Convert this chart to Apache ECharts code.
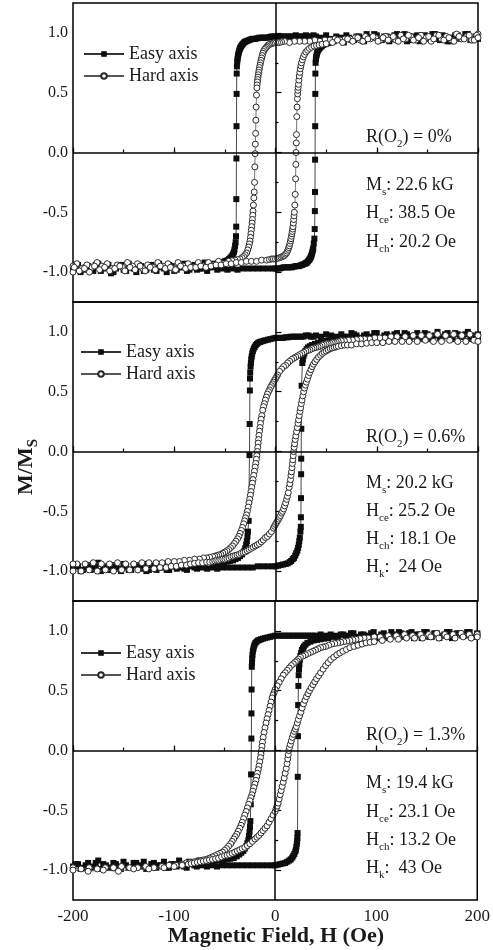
<!DOCTYPE html>
<html><head><meta charset="utf-8">
<script src="https://cdn.jsdelivr.net/npm/echarts@6/dist/echarts.min.js"></script>
<style>html,body{margin:0;padding:0;background:#fff;}#c{width:493px;height:950px;}</style>
</head><body><div id="c"></div>
<script>
// ---------------- data ----------------
const xLabelTicks = [-200, -100, 0, 100, 200];
const yLabelTicks = [-1.0, -0.5, 0.0, 0.5, 1.0];
const yMinorTicks = [-0.75, -0.25, 0.25, 0.75];
const legendNames = ['Easy axis', 'Hard axis'];
const oxygenRatio = ['0%', '0.6%', '1.3%'];
const msValues = ['22.6 kG', '20.2 kG', '19.4 kG'];
const hceValues = ['38.5 Oe', '25.2 Oe', '23.1 Oe'];
const hchValues = ['20.2 Oe', '18.1 Oe', '13.2 Oe'];
const hkValues = [null, '24 Oe', '43 Oe'];
const xTitle = 'Magnetic Field, H (Oe)';

// Panel 1 : R(O2)=0%
const easy1Down = [[200,0.97],[195,0.94],[190,0.99],[185,0.95],[180,0.98],[175,0.96],[170,0.93],[165,0.98],[160,0.95],[155,0.99],[150,0.96],[145,0.94],[140,0.98],[135,0.97],[130,0.93],[125,0.96],[120,0.99],[115,0.95],[110,0.97],[105,0.94],[100,0.98],[95,0.96],[90,0.99],[85,0.95],[80,0.97],[75,0.94],[70,0.98],[65,0.96],[60,0.97],[55,0.95],[50,0.98],[45,0.96],[40,0.97],[37.5,0.98],[35,0.97],[32.5,0.97],[30,0.98],[27.5,0.97],[25,0.97],[22.5,0.97],[20,0.98],[17.5,0.97],[15,0.97],[12.5,0.97],[10,0.97],[7.5,0.97],[5,0.97],[2.5,0.97],[0,0.97],[-2,0.97],[-4,0.97],[-6,0.965],[-8,0.96],[-10,0.96],[-12,0.96],[-14,0.96],[-16,0.96],[-18,0.955],[-20,0.95],[-21.5,0.95],[-23,0.95],[-24.5,0.945],[-26,0.94],[-27.5,0.935],[-29,0.93],[-30,0.925],[-31,0.92],[-32,0.91],[-33,0.9],[-33.8,0.89],[-34.5,0.88],[-35,0.87],[-35.5,0.86],[-36,0.845],[-36.5,0.83],[-36.9,0.815],[-37.2,0.8],[-37.5,0.78],[-37.8,0.76],[-38.1,0.72],[-38.3,0.66],[-38.4,0.49],[-38.5,0.22],[-38.6,-0.05],[-38.7,-0.39],[-38.8,-0.62],[-39,-0.7],[-39.4,-0.75],[-39.9,-0.78],[-40.5,-0.81],[-41,-0.83],[-41.7,-0.845],[-42.5,-0.86],[-43.4,-0.87],[-44.5,-0.88],[-45.7,-0.89],[-47,-0.9],[-48.5,-0.905],[-50,-0.91],[-52,-0.915],[-54,-0.92],[-56,-0.925],[-58,-0.93],[-61,-0.93],[-65,-0.96],[-70,-0.92],[-75,-0.97],[-80,-0.94],[-85,-0.98],[-90,-0.93],[-95,-0.96],[-100,-0.99],[-105,-0.94],[-110,-0.97],[-115,-0.93],[-120,-0.98],[-125,-0.95],[-130,-0.99],[-135,-0.94],[-140,-0.97],[-145,-0.93],[-150,-0.98],[-155,-0.95],[-160,-1.0],[-165,-0.94],[-170,-0.97],[-175,-0.93],[-180,-0.99],[-185,-0.95],[-190,-0.98],[-195,-0.94],[-200,-0.97]];
const easy1Up = [[-200,-0.99],[-197.5,-0.95],[-192.5,-1.0],[-187.5,-0.96],[-182.5,-0.98],[-177.5,-0.94],[-172.5,-0.99],[-167.5,-0.96],[-162.5,-1.01],[-157.5,-0.97],[-152.5,-0.94],[-147.5,-0.99],[-142.5,-0.96],[-137.5,-1.0],[-132.5,-0.95],[-127.5,-0.98],[-122.5,-0.94],[-117.5,-0.99],[-112.5,-0.96],[-107.5,-1.0],[-102.5,-0.95],[-97.5,-0.98],[-92.5,-0.96],[-87.5,-0.99],[-82.5,-0.95],[-77.5,-0.98],[-72.5,-0.97],[-67.5,-0.99],[-62.5,-0.96],[-57.5,-0.98],[-52.5,-0.97],[-47.5,-0.98],[-42.5,-0.97],[-37.5,-0.98],[-32.5,-0.97],[-27.5,-0.97],[-22.5,-0.97],[-17.5,-0.97],[-12.5,-0.97],[-7.5,-0.97],[-2.5,-0.97],[0,-0.97],[2,-0.97],[4,-0.97],[6,-0.965],[8,-0.96],[10,-0.96],[12,-0.96],[14,-0.96],[16,-0.96],[18,-0.955],[20,-0.95],[21.5,-0.95],[23,-0.95],[24.5,-0.945],[26,-0.94],[27.5,-0.935],[29,-0.93],[30,-0.925],[31,-0.92],[32,-0.91],[33,-0.9],[33.8,-0.89],[34.5,-0.88],[35,-0.87],[35.5,-0.86],[36,-0.845],[36.5,-0.83],[36.9,-0.815],[37.3,-0.8],[37.8,-0.76],[38.4,-0.72],[38.7,-0.64],[38.9,-0.49],[39,-0.33],[39.1,-0.06],[39.2,0.22],[39.3,0.49],[39.4,0.66],[39.6,0.75],[39.9,0.78],[40.2,0.8],[40.6,0.815],[41,0.83],[41.7,0.845],[42.5,0.86],[43.4,0.87],[44.5,0.88],[45.7,0.89],[47,0.9],[48.5,0.905],[50,0.91],[52,0.915],[54,0.92],[57.5,0.93],[62.5,0.95],[67.5,0.92],[72.5,0.96],[77.5,0.94],[82.5,0.97],[87.5,0.93],[92.5,0.96],[97.5,0.99],[102.5,0.94],[107.5,0.97],[112.5,0.93],[117.5,0.98],[122.5,0.95],[127.5,0.99],[132.5,0.94],[137.5,0.96],[142.5,0.93],[147.5,0.98],[152.5,0.95],[157.5,0.99],[162.5,0.94],[167.5,0.97],[172.5,0.93],[177.5,0.98],[182.5,0.95],[187.5,0.99],[192.5,0.94],[197.5,0.97],[200,0.95]];
const hard1Down = [[200,0.99],[198.75,0.98],[193.75,0.94],[188.75,0.97],[183.75,0.95],[178.75,0.99],[173.75,0.94],[168.75,0.97],[163.75,0.95],[158.75,0.98],[153.75,0.93],[148.75,0.96],[143.75,0.98],[138.75,0.94],[133.75,0.97],[128.75,0.95],[123.75,0.98],[118.75,0.94],[113.75,0.96],[108.75,0.97],[103.75,0.94],[98.75,0.96],[93.75,0.95],[88.75,0.97],[83.75,0.94],[78.75,0.96],[73.75,0.95],[68.75,0.95],[63.75,0.94],[58.75,0.95],[53.75,0.94],[48.75,0.94],[43.75,0.93],[38.75,0.94],[33.75,0.93],[28.75,0.93],[23.75,0.93],[18.75,0.93],[13.75,0.92],[8.75,0.93],[6,0.925],[4,0.92],[2,0.92],[0,0.92],[-2,0.915],[-4,0.91],[-5.5,0.905],[-7,0.9],[-8,0.89],[-9,0.88],[-10,0.87],[-11,0.86],[-11.8,0.845],[-12.5,0.83],[-13.1,0.81],[-13.7,0.79],[-14.3,0.77],[-14.8,0.75],[-15.3,0.73],[-15.8,0.71],[-16.2,0.69],[-16.6,0.67],[-17,0.65],[-17.3,0.63],[-17.6,0.61],[-17.9,0.59],[-18.2,0.565],[-18.4,0.54],[-18.8,0.48],[-19.1,0.38],[-19.4,0.27],[-19.6,0.16],[-19.9,0.07],[-20.1,-0.01],[-20.4,-0.12],[-20.7,-0.25],[-21,-0.33],[-21.4,-0.38],[-21.8,-0.44],[-22.2,-0.49],[-22.5,-0.525],[-22.8,-0.56],[-23.1,-0.59],[-23.5,-0.62],[-23.9,-0.65],[-24.3,-0.68],[-24.7,-0.71],[-25.2,-0.74],[-25.8,-0.765],[-26.5,-0.79],[-27.4,-0.815],[-28.5,-0.84],[-30,-0.855],[-31.5,-0.87],[-33,-0.88],[-35,-0.89],[-37.5,-0.895],[-40,-0.9],[-43,-0.905],[-46.25,-0.91],[-51.25,-0.93],[-56.25,-0.91],[-61.25,-0.94],[-66.25,-0.92],[-71.25,-0.95],[-76.25,-0.92],[-81.25,-0.96],[-86.25,-0.93],[-91.25,-0.95],[-96.25,-0.92],[-101.25,-0.97],[-106.25,-0.93],[-111.25,-0.95],[-116.25,-0.92],[-121.25,-0.96],[-126.25,-0.94],[-131.25,-0.97],[-136.25,-0.93],[-141.25,-0.95],[-146.25,-0.92],[-151.25,-0.96],[-156.25,-0.94],[-161.25,-0.97],[-166.25,-0.93],[-171.25,-0.95],[-176.25,-0.92],[-181.25,-0.96],[-186.25,-0.94],[-191.25,-0.97],[-196.25,-0.93],[-200,-0.95]];
const hard1Up = [[-200,-1.0],[-198.75,-0.96],[-193.75,-0.99],[-188.75,-0.97],[-183.75,-1.0],[-178.75,-0.95],[-173.75,-0.98],[-168.75,-0.96],[-163.75,-0.99],[-158.75,-0.97],[-153.75,-0.95],[-148.75,-0.99],[-143.75,-0.96],[-138.75,-0.98],[-133.75,-0.95],[-128.75,-0.99],[-123.75,-0.96],[-118.75,-0.98],[-113.75,-0.95],[-108.75,-0.97],[-103.75,-0.96],[-98.75,-0.98],[-93.75,-0.95],[-88.75,-0.97],[-83.75,-0.96],[-78.75,-0.96],[-73.75,-0.95],[-68.75,-0.96],[-63.75,-0.95],[-58.75,-0.94],[-53.75,-0.94],[-48.75,-0.93],[-43.75,-0.93],[-38.75,-0.92],[-33.75,-0.92],[-28.75,-0.91],[-23.75,-0.91],[-18.75,-0.91],[-13.75,-0.9],[-8.75,-0.9],[-6,-0.895],[-3.75,-0.89],[-2,-0.89],[0,-0.89],[2,-0.885],[4,-0.88],[5.5,-0.875],[7,-0.87],[8,-0.865],[9,-0.86],[10,-0.85],[11,-0.84],[11.8,-0.825],[12.5,-0.81],[13.1,-0.795],[13.7,-0.78],[14.3,-0.76],[14.8,-0.74],[15.3,-0.72],[15.8,-0.7],[16.2,-0.68],[16.6,-0.66],[17,-0.64],[17.3,-0.62],[17.7,-0.59],[18,-0.56],[18.3,-0.53],[18.6,-0.5],[19.1,-0.44],[19.5,-0.35],[19.8,-0.22],[20.1,-0.1],[20.3,0.0],[20.5,0.08],[20.7,0.15],[21,0.3],[21.3,0.38],[21.6,0.45],[21.9,0.49],[22.1,0.52],[22.4,0.545],[22.7,0.57],[23.1,0.605],[23.5,0.64],[24,0.67],[24.5,0.7],[25.1,0.725],[25.7,0.75],[26.5,0.775],[27.5,0.8],[28.7,0.82],[30,0.84],[31.7,0.855],[33.5,0.87],[35.7,0.88],[38,0.89],[40.5,0.895],[43,0.9],[46,0.905],[50,0.91],[56.25,0.92],[61.25,0.94],[66.25,0.92],[71.25,0.95],[76.25,0.93],[81.25,0.96],[86.25,0.93],[91.25,0.95],[96.25,0.97],[101.25,0.93],[106.25,0.96],[111.25,0.94],[116.25,0.97],[121.25,0.93],[126.25,0.95],[131.25,0.98],[136.25,0.94],[141.25,0.96],[146.25,0.93],[151.25,0.97],[156.25,0.95],[161.25,0.98],[166.25,0.94],[171.25,0.96],[176.25,0.93],[181.25,0.97],[186.25,0.95],[191.25,0.98],[196.25,0.94],[200,0.96]];

// Panel 2 : R(O2)=0.6%
const easy2Down = [[200,0.98],[195,0.95],[190,1.0],[185,0.96],[180,0.98],[175,0.94],[170,0.99],[165,0.96],[160,1.0],[155,0.95],[150,0.98],[145,0.94],[140,0.99],[135,0.96],[130,0.98],[125,0.95],[120,0.99],[115,0.96],[110,0.98],[105,0.94],[100,0.99],[95,0.96],[90,0.98],[85,0.95],[80,0.97],[75,0.99],[70,0.96],[65,0.98],[60,0.96],[55,0.97],[50,0.98],[45,0.96],[40,0.97],[37.5,0.96],[35,0.96],[32.5,0.97],[30,0.97],[27.5,0.96],[25,0.96],[22.5,0.96],[20,0.96],[17.5,0.96],[15,0.96],[12.5,0.955],[10,0.955],[7.5,0.95],[5,0.95],[2.5,0.95],[0,0.95],[-2.5,0.945],[-5,0.94],[-7.5,0.935],[-10,0.93],[-12,0.925],[-14,0.92],[-15.5,0.915],[-17,0.91],[-18.3,0.9],[-19.5,0.89],[-20.5,0.875],[-21.5,0.86],[-22.3,0.84],[-23,0.82],[-23.5,0.795],[-24,0.77],[-24.3,0.74],[-24.6,0.71],[-25,0.66],[-25.2,0.61],[-25.3,0.51],[-25.5,0.23],[-25.7,-0.03],[-26.5,-0.58],[-27.2,-0.67],[-27.7,-0.71],[-28.3,-0.75],[-29,-0.78],[-30,-0.81],[-31.3,-0.835],[-33,-0.86],[-35,-0.875],[-37,-0.89],[-39.5,-0.9],[-42,-0.91],[-45,-0.915],[-48,-0.92],[-51,-0.925],[-54,-0.93],[-57,-0.935],[-60,-0.94],[-65,-0.92],[-70,-0.96],[-75,-0.93],[-80,-0.97],[-85,-0.94],[-90,-0.98],[-95,-0.93],[-100,-0.96],[-105,-0.99],[-110,-0.94],[-115,-0.97],[-120,-0.95],[-125,-0.99],[-130,-0.94],[-135,-0.97],[-140,-0.95],[-145,-0.99],[-150,-0.94],[-155,-0.98],[-160,-0.95],[-165,-0.99],[-170,-0.96],[-175,-0.93],[-180,-0.98],[-185,-0.95],[-190,-0.99],[-195,-0.96],[-200,-0.98]];
const easy2Up = [[-200,-0.99],[-197.5,-0.96],[-192.5,-1.0],[-187.5,-0.97],[-182.5,-0.99],[-177.5,-0.95],[-172.5,-1.0],[-167.5,-0.97],[-162.5,-0.99],[-157.5,-0.96],[-152.5,-1.0],[-147.5,-0.97],[-142.5,-0.99],[-137.5,-0.95],[-132.5,-0.98],[-127.5,-1.0],[-122.5,-0.96],[-117.5,-0.99],[-112.5,-0.97],[-107.5,-0.99],[-102.5,-0.96],[-97.5,-0.98],[-92.5,-0.97],[-87.5,-0.99],[-82.5,-0.96],[-77.5,-0.98],[-72.5,-0.97],[-67.5,-0.98],[-62.5,-0.97],[-57.5,-0.98],[-52.5,-0.97],[-47.5,-0.97],[-42.5,-0.97],[-37.5,-0.97],[-32.5,-0.97],[-27.5,-0.97],[-22.5,-0.97],[-17.5,-0.96],[-12.5,-0.96],[-7.5,-0.96],[-2.5,-0.96],[0,-0.96],[2.5,-0.955],[5,-0.95],[7.5,-0.945],[10,-0.94],[12,-0.935],[14,-0.925],[15.5,-0.915],[17,-0.9],[18.3,-0.89],[19.5,-0.87],[20.5,-0.85],[21.5,-0.83],[22.3,-0.805],[23,-0.78],[23.5,-0.75],[24,-0.72],[24.6,-0.67],[25,-0.63],[25.1,-0.55],[25.2,-0.39],[25.3,-0.19],[25.4,-0.06],[25.5,0.19],[25.8,0.55],[26.5,0.74],[27.1,0.77],[27.7,0.8],[28.5,0.82],[29.5,0.84],[30.7,0.855],[32,0.87],[34,0.88],[36,0.89],[39,0.9],[42,0.91],[45,0.915],[47.5,0.92],[50,0.925],[52.5,0.93],[57.5,0.95],[62.5,0.93],[67.5,0.96],[72.5,0.94],[77.5,0.98],[82.5,0.95],[87.5,0.97],[92.5,0.94],[97.5,0.99],[102.5,0.95],[107.5,0.97],[112.5,0.93],[117.5,0.98],[122.5,0.96],[127.5,0.99],[132.5,0.94],[137.5,0.97],[142.5,0.95],[147.5,0.99],[152.5,0.94],[157.5,0.97],[162.5,0.95],[167.5,0.98],[172.5,0.94],[177.5,0.99],[182.5,0.96],[187.5,0.98],[192.5,0.94],[197.5,0.97],[200,0.95]];
const hard2Down = [[200,0.97],[192,0.98],[184,0.97],[176,0.98],[168,0.97],[160,0.98],[152,0.97],[144,0.97],[136,0.97],[128,0.96],[120,0.96],[114,0.96],[108,0.95],[103,0.95],[98,0.95],[93,0.94],[88,0.94],[84,0.94],[80,0.935],[76,0.93],[72,0.93],[68,0.925],[65,0.925],[62,0.92],[60,0.915],[58,0.91],[56,0.91],[54,0.905],[52,0.9],[50,0.9],[48,0.895],[46,0.89],[44,0.88],[42,0.875],[40,0.87],[38,0.865],[36,0.86],[34,0.85],[32,0.845],[30,0.84],[28,0.83],[26,0.82],[24,0.81],[22,0.8],[20,0.79],[18,0.78],[16,0.77],[14,0.755],[12,0.74],[10,0.72],[8,0.71],[6,0.69],[4,0.67],[2,0.64],[1,0.625],[0,0.61],[-1,0.595],[-2,0.58],[-3,0.565],[-4,0.55],[-5,0.535],[-6,0.515],[-7,0.5],[-8,0.48],[-9,0.455],[-10,0.43],[-11,0.4],[-11.8,0.375],[-12.6,0.345],[-13.5,0.3],[-14.2,0.27],[-14.8,0.235],[-15.3,0.2],[-15.8,0.17],[-16.3,0.135],[-16.7,0.1],[-17.1,0.07],[-17.5,0.035],[-17.9,0.0],[-18.4,-0.035],[-18.9,-0.065],[-19.5,-0.1],[-20.1,-0.13],[-20.8,-0.165],[-21.5,-0.2],[-22.2,-0.235],[-22.8,-0.265],[-23.5,-0.3],[-24.2,-0.335],[-24.8,-0.365],[-25.5,-0.4],[-26.2,-0.43],[-27,-0.465],[-27.8,-0.5],[-28.7,-0.53],[-29.6,-0.555],[-30.5,-0.58],[-31.5,-0.605],[-32.6,-0.635],[-33.7,-0.66],[-35,-0.685],[-36.2,-0.71],[-37.5,-0.73],[-39,-0.75],[-40.7,-0.77],[-42.5,-0.79],[-44.5,-0.805],[-46.2,-0.82],[-48,-0.83],[-50,-0.84],[-52,-0.85],[-54,-0.86],[-56,-0.865],[-58,-0.87],[-60,-0.875],[-62,-0.88],[-65,-0.885],[-68,-0.89],[-71,-0.89],[-75,-0.9],[-80,-0.9],[-85,-0.91],[-90,-0.91],[-95,-0.92],[-100,-0.92],[-106,-0.92],[-112,-0.93],[-118,-0.93],[-125,-0.93],[-132,-0.93],[-140,-0.94],[-148,-0.94],[-156,-0.93],[-164,-0.94],[-172,-0.94],[-180,-0.93],[-188,-0.94],[-196,-0.94],[-200,-0.94]];
const hard2Up = [[-200,-1.0],[-192,-1.0],[-184,-0.99],[-176,-1.0],[-168,-0.99],[-160,-1.0],[-152,-0.99],[-144,-0.99],[-136,-0.99],[-128,-0.98],[-120,-0.98],[-114,-0.97],[-108,-0.97],[-103,-0.96],[-98,-0.96],[-93,-0.95],[-88,-0.95],[-84,-0.94],[-80,-0.935],[-76,-0.93],[-72,-0.93],[-68,-0.925],[-65,-0.925],[-62,-0.92],[-60,-0.915],[-58,-0.91],[-56,-0.91],[-54,-0.905],[-52,-0.9],[-50,-0.9],[-48,-0.895],[-46,-0.89],[-44,-0.88],[-42,-0.875],[-40,-0.87],[-38,-0.865],[-36,-0.86],[-34,-0.85],[-32,-0.845],[-30,-0.84],[-28,-0.83],[-26,-0.82],[-24,-0.81],[-22,-0.8],[-20,-0.79],[-18,-0.78],[-16,-0.77],[-14,-0.755],[-12,-0.74],[-10,-0.72],[-8,-0.71],[-6,-0.69],[-4,-0.67],[-2,-0.64],[-1,-0.625],[0,-0.61],[1,-0.595],[2,-0.58],[3,-0.565],[4,-0.55],[5,-0.535],[6,-0.515],[7,-0.5],[8,-0.48],[9,-0.455],[10,-0.43],[11,-0.4],[11.8,-0.375],[12.6,-0.345],[13.5,-0.3],[14.2,-0.27],[14.8,-0.235],[15.3,-0.2],[15.8,-0.17],[16.3,-0.135],[16.7,-0.1],[17.1,-0.07],[17.5,-0.035],[17.9,0.0],[18.4,0.035],[18.9,0.065],[19.5,0.1],[20.1,0.13],[20.8,0.165],[21.5,0.2],[22.2,0.235],[22.8,0.265],[23.5,0.3],[24.2,0.335],[24.8,0.365],[25.5,0.4],[26.2,0.43],[27,0.465],[27.8,0.5],[28.7,0.53],[29.6,0.555],[30.5,0.58],[31.5,0.605],[32.6,0.635],[33.7,0.66],[35,0.685],[36.2,0.71],[37.5,0.73],[39,0.75],[40.7,0.77],[42.5,0.79],[44.5,0.805],[46.2,0.82],[48,0.83],[50,0.84],[52,0.85],[54,0.86],[56,0.865],[58,0.87],[60,0.875],[62,0.88],[65,0.885],[68,0.89],[71,0.89],[75,0.89],[80,0.9],[85,0.9],[90,0.905],[95,0.91],[100,0.91],[106,0.91],[112,0.92],[118,0.92],[125,0.92],[132,0.92],[140,0.92],[148,0.93],[156,0.92],[164,0.92],[172,0.93],[180,0.92],[188,0.92],[196,0.93],[200,0.92]];

// Panel 3 : R(O2)=1.3%
const easy3Down = [[200,0.98],[195,0.95],[190,0.99],[185,0.96],[180,0.98],[175,0.94],[170,0.99],[165,0.96],[160,0.98],[155,0.95],[150,0.99],[145,0.94],[140,0.97],[135,0.99],[130,0.95],[125,0.98],[120,0.96],[115,0.99],[110,0.95],[105,0.97],[100,0.94],[95,0.98],[90,0.96],[85,0.97],[80,0.95],[75,0.98],[70,0.96],[65,0.97],[60,0.96],[55,0.97],[50,0.96],[45,0.97],[40,0.96],[37.5,0.96],[35,0.96],[32.5,0.96],[30,0.96],[27.5,0.96],[25,0.96],[22.5,0.96],[20,0.96],[17.5,0.96],[15,0.96],[12.5,0.96],[10,0.96],[7.5,0.96],[5,0.96],[2.5,0.96],[0,0.96],[-2.5,0.955],[-5,0.95],[-7.5,0.945],[-10,0.94],[-12,0.935],[-14,0.93],[-15.5,0.925],[-17,0.92],[-18.3,0.91],[-19.5,0.9],[-20.3,0.885],[-21,0.87],[-21.5,0.85],[-22,0.83],[-22.4,0.8],[-22.7,0.77],[-22.9,0.735],[-23.1,0.7],[-23.3,0.51],[-23.4,0.31],[-23.5,0.1],[-23.8,-0.2],[-24.1,-0.45],[-24.5,-0.59],[-24.9,-0.64],[-25.3,-0.68],[-25.9,-0.715],[-26.5,-0.75],[-27.5,-0.775],[-28.5,-0.8],[-30,-0.82],[-31.5,-0.84],[-33.5,-0.855],[-35.5,-0.87],[-38,-0.885],[-41,-0.9],[-44.5,-0.905],[-48,-0.91],[-51.5,-0.915],[-55,-0.92],[-60,-0.93],[-65,-0.91],[-70,-0.95],[-75,-0.92],[-80,-0.96],[-85,-0.93],[-90,-0.97],[-95,-0.92],[-100,-0.95],[-105,-0.98],[-110,-0.93],[-115,-0.96],[-120,-0.94],[-125,-0.98],[-130,-0.93],[-135,-0.96],[-140,-0.94],[-145,-0.98],[-150,-0.93],[-155,-0.97],[-160,-0.94],[-165,-0.98],[-170,-0.95],[-175,-0.92],[-180,-0.97],[-185,-0.94],[-190,-0.98],[-195,-0.95],[-200,-0.97]];
const easy3Up = [[-200,-0.98],[-197.5,-0.95],[-192.5,-0.99],[-187.5,-0.96],[-182.5,-0.98],[-177.5,-0.94],[-172.5,-0.99],[-167.5,-0.96],[-162.5,-0.98],[-157.5,-0.95],[-152.5,-0.99],[-147.5,-0.96],[-142.5,-0.98],[-137.5,-0.94],[-132.5,-0.97],[-127.5,-0.99],[-122.5,-0.95],[-117.5,-0.98],[-112.5,-0.96],[-107.5,-0.98],[-102.5,-0.95],[-97.5,-0.97],[-92.5,-0.96],[-87.5,-0.98],[-82.5,-0.95],[-77.5,-0.97],[-72.5,-0.96],[-67.5,-0.97],[-62.5,-0.96],[-57.5,-0.97],[-52.5,-0.96],[-47.5,-0.96],[-42.5,-0.96],[-37.5,-0.96],[-32.5,-0.96],[-27.5,-0.96],[-22.5,-0.96],[-17.5,-0.96],[-12.5,-0.96],[-7.5,-0.96],[-2.5,-0.96],[0,-0.96],[2.5,-0.955],[5,-0.95],[7.5,-0.945],[10,-0.94],[12,-0.93],[14,-0.92],[15.5,-0.91],[17,-0.895],[18,-0.88],[19,-0.865],[20,-0.845],[20.5,-0.83],[21,-0.805],[21.5,-0.78],[21.8,-0.755],[22,-0.73],[22.2,-0.69],[22.4,-0.22],[22.6,0.12],[22.8,0.38],[23,0.54],[23.3,0.63],[23.6,0.68],[24,0.72],[24.5,0.76],[25,0.79],[25.7,0.815],[26.5,0.84],[27.5,0.855],[28.5,0.87],[30,0.885],[32,0.9],[35,0.91],[38,0.92],[41.5,0.925],[45,0.93],[48.5,0.935],[52.5,0.94],[57.5,0.95],[62.5,0.93],[67.5,0.97],[72.5,0.94],[77.5,0.98],[82.5,0.95],[87.5,0.97],[92.5,0.94],[97.5,0.99],[102.5,0.95],[107.5,0.98],[112.5,0.94],[117.5,0.97],[122.5,0.99],[127.5,0.95],[132.5,0.98],[137.5,0.94],[142.5,0.97],[147.5,0.99],[152.5,0.95],[157.5,0.98],[162.5,0.94],[167.5,0.97],[172.5,0.99],[177.5,0.95],[182.5,0.98],[187.5,0.96],[192.5,0.99],[197.5,0.95],[200,0.97]];
const hard3Down = [[200,0.97],[192,0.97],[184,0.98],[176,0.97],[168,0.97],[160,0.98],[152,0.97],[144,0.97],[136,0.96],[128,0.97],[120,0.96],[112,0.96],[104,0.95],[98,0.95],[92,0.94],[88,0.94],[84,0.935],[80,0.93],[77,0.925],[74,0.92],[71,0.915],[68,0.91],[65,0.905],[62,0.9],[59,0.895],[56,0.89],[53,0.88],[50,0.87],[47.5,0.865],[45,0.86],[42.5,0.85],[40,0.84],[37.5,0.83],[35,0.82],[32.5,0.81],[30,0.8],[27.5,0.79],[25,0.78],[23,0.765],[21.5,0.75],[20,0.74],[18,0.725],[16,0.71],[14,0.69],[12,0.67],[10,0.65],[8,0.63],[6,0.6],[4,0.57],[2,0.54],[0,0.51],[-1,0.485],[-2,0.465],[-3,0.44],[-4,0.405],[-5,0.37],[-6,0.335],[-7,0.3],[-8,0.265],[-9,0.23],[-10,0.19],[-11,0.15],[-11.8,0.11],[-12.5,0.07],[-13,0.035],[-13.5,0.0],[-14,-0.03],[-14.5,-0.06],[-15.2,-0.095],[-16,-0.13],[-16.7,-0.16],[-17.5,-0.19],[-18.2,-0.22],[-19,-0.25],[-20,-0.28],[-21,-0.31],[-22,-0.34],[-23,-0.37],[-24,-0.395],[-25,-0.42],[-26.2,-0.45],[-27.5,-0.48],[-28.7,-0.51],[-30,-0.54],[-31.2,-0.57],[-32.5,-0.6],[-33.7,-0.625],[-35,-0.65],[-36.5,-0.675],[-38,-0.7],[-39.5,-0.72],[-41,-0.74],[-42.5,-0.76],[-44,-0.78],[-46,-0.8],[-48,-0.82],[-50,-0.835],[-52,-0.85],[-54.5,-0.86],[-57,-0.87],[-59.5,-0.88],[-62,-0.89],[-65,-0.9],[-68,-0.91],[-71,-0.915],[-74,-0.92],[-77,-0.925],[-80,-0.93],[-84,-0.935],[-88,-0.94],[-92,-0.95],[-98,-0.96],[-105,-0.96],[-112,-0.97],[-120,-0.98],[-128,-0.97],[-136,-0.98],[-144,-0.98],[-152,-0.97],[-160,-0.98],[-168,-0.98],[-176,-0.99],[-184,-0.98],[-192,-0.99],[-200,-0.98]];
const hard3Up = [[-200,-1.0],[-185,-1.01],[-170,-1.0],[-155,-1.01],[-140,-0.99],[-125,-0.99],[-110,-0.98],[-100,-0.97],[-92,-0.96],[-86,-0.95],[-83,-0.945],[-80,-0.94],[-77,-0.935],[-74,-0.93],[-71,-0.925],[-68,-0.92],[-65,-0.915],[-62,-0.91],[-59,-0.905],[-56,-0.9],[-53,-0.89],[-50,-0.88],[-47.5,-0.875],[-45,-0.87],[-42.5,-0.86],[-40,-0.85],[-37.5,-0.84],[-35,-0.83],[-32.5,-0.82],[-30,-0.81],[-27.5,-0.795],[-25,-0.78],[-22.5,-0.76],[-20,-0.74],[-18,-0.725],[-16,-0.71],[-14,-0.69],[-12,-0.67],[-10,-0.65],[-8,-0.63],[-6,-0.6],[-4,-0.57],[-2,-0.54],[0,-0.51],[1,-0.485],[2,-0.465],[3,-0.44],[4,-0.405],[5,-0.37],[6,-0.335],[7,-0.3],[8,-0.265],[9,-0.23],[10,-0.19],[11,-0.15],[11.8,-0.11],[12.5,-0.07],[13,-0.035],[13.5,0.0],[14.2,0.025],[15,0.05],[16,0.08],[17,0.11],[18,0.135],[19,0.16],[20,0.18],[21,0.2],[22,0.23],[23,0.26],[24.2,0.29],[25.5,0.32],[26.7,0.355],[28,0.39],[29.5,0.42],[31,0.45],[32.5,0.475],[34,0.5],[35.7,0.525],[37.5,0.55],[39.2,0.575],[41,0.6],[43,0.625],[45,0.65],[47.5,0.68],[50,0.71],[52.5,0.735],[55,0.76],[58,0.78],[61,0.8],[64,0.815],[67,0.83],[70.5,0.845],[74,0.86],[78,0.87],[82,0.88],[86,0.89],[90,0.9],[94,0.905],[98,0.91],[106,0.92],[114,0.93],[122,0.93],[130,0.94],[138,0.94],[146,0.94],[154,0.95],[162,0.94],[170,0.95],[178,0.94],[186,0.95],[194,0.94],[200,0.95]];

// ---------------- layout / style ----------------
const FF = '"Liberation Serif","Times New Roman",serif';
const INK = '#1a1a1a';
const gridTops = [3, 302, 601];
const GRID_LEFT = 73, GRID_W = 405, GRID_H = 299;
const legendLefts = [83, 80, 80];
const legendTops = [45, 343, 644];
const annoX = 366;
const annoYs = [[137, 185, 213, 242], [437, 483, 511, 539, 567], [735, 783, 812, 840, 868]];

const loops = [
  { easy: easy1Down.concat(easy1Up), hard: hard1Down.concat(hard1Up) },
  { easy: easy2Down.concat(easy2Up), hard: hard2Down.concat(hard2Up) },
  { easy: easy3Down.concat(easy3Up), hard: hard3Down.concat(hard3Up) }
];

const grid = [], xAxis = [], yAxis = [], series = [], legend = [], graphic = [];
const sub = { fontSize: 11, fontFamily: FF, lineHeight: 12, padding: [15, 0, 0, 0], fill: INK };

for (let i = 0; i < 3; i++) {
  grid.push({ left: GRID_LEFT, top: gridTops[i], width: GRID_W, height: GRID_H, show: true, borderColor: '#000', borderWidth: 1.5, backgroundColor: 'transparent', containLabel: false });
  const bottom = i === 2;
  xAxis.push({ type: 'value', gridIndex: i, min: -200, max: 200, interval: 100, position: 'bottom',
    axisLine: { show: false }, splitLine: { show: false },
    axisTick: { show: true, inside: true, length: 5, lineStyle: { color: '#000', width: 1.2 } },
    axisLabel: { show: bottom, margin: 8, fontFamily: FF, fontSize: 17, color: INK } });
  xAxis.push({ type: 'value', gridIndex: i, min: -200, max: 200, interval: 50, position: 'bottom',
    axisLine: { show: false }, splitLine: { show: false }, axisLabel: { show: false },
    axisTick: { show: true, inside: true, length: 3, lineStyle: { color: '#000', width: 1.2 } } });
  yAxis.push({ type: 'value', gridIndex: i, min: -1.25, max: 1.25, position: 'left',
    axisLine: { show: false }, splitLine: { show: false },
    axisTick: { show: true, inside: true, length: 6, customValues: yLabelTicks, lineStyle: { color: '#000', width: 1.2 } },
    axisLabel: { show: true, margin: 5, customValues: yLabelTicks, fontFamily: FF, fontSize: 16, color: INK, formatter: v => v.toFixed(1) } });
  yAxis.push({ type: 'value', gridIndex: i, min: -1.25, max: 1.25, position: 'left',
    axisLine: { show: false }, splitLine: { show: false }, axisLabel: { show: false },
    axisTick: { show: true, inside: true, length: 3, customValues: yMinorTicks, lineStyle: { color: '#000', width: 1.2 } } });

  series.push({ type: 'line', name: legendNames[0], xAxisIndex: i * 2, yAxisIndex: i * 2, data: loops[i].easy,
    symbol: 'rect', symbolSize: 6, itemStyle: { color: '#0d0d0d' }, lineStyle: { color: '#333', width: 0.9 },
    animation: false, silent: true, z: 2,
    markLine: { silent: true, symbol: 'none', label: { show: false }, animation: false,
      lineStyle: { color: '#000', width: 1.5, type: 'solid' }, data: [{ xAxis: 0 }, { yAxis: 0 }] } });
  series.push({ type: 'line', name: legendNames[1], xAxisIndex: i * 2, yAxisIndex: i * 2, data: loops[i].hard,
    symbol: 'circle', symbolSize: 6, itemStyle: { color: '#fff', borderColor: '#2a2a2a', borderWidth: 1 },
    lineStyle: { color: '#555', width: 0.8 }, animation: false, silent: true, z: 3 });

  legend.push({ orient: 'vertical', left: legendLefts[i], top: legendTops[i], padding: 0, itemWidth: 40, itemHeight: 7, itemGap: 4,
    selectedMode: false, textStyle: { fontFamily: FF, fontSize: 18, color: INK }, data: legendNames });

  const lines = ['R(O{sub|2}) = ' + oxygenRatio[i], 'M{sub|s}: ' + msValues[i], 'H{sub|ce}: ' + hceValues[i], 'H{sub|ch}: ' + hchValues[i]];
  if (hkValues[i]) lines.push('H{sub|k}:  ' + hkValues[i]);
  lines.forEach((t, k) => {
    graphic.push({ type: 'text', x: annoX, y: annoYs[i][k], silent: true, z: 10,
      style: { text: t, fill: INK, fontFamily: FF, fontSize: 18, lineHeight: 22, align: 'left', verticalAlign: 'middle', rich: { sub } } });
  });
}

graphic.push({ type: 'text', x: 26, y: 467, rotation: Math.PI / 2, silent: true,
  style: { text: 'M/M{s|S}', fill: INK, fontFamily: FF, fontSize: 22, fontWeight: 'bold', lineHeight: 24, align: 'center', verticalAlign: 'middle',
    rich: { s: { fontSize: 15, fontWeight: 'bold', fontFamily: FF, lineHeight: 14, padding: [14, 0, 0, 0], fill: INK } } } });
graphic.push({ type: 'text', x: 276, y: 936, silent: true,
  style: { text: xTitle, fill: INK, fontFamily: FF, fontSize: 22, fontWeight: 'bold', align: 'center', verticalAlign: 'middle' } });

const chart = echarts.init(document.getElementById('c'), null, { renderer: 'canvas' });
chart.setOption({ backgroundColor: '#fff', animation: false, grid, xAxis, yAxis, series, legend, graphic });
</script></body></html>
